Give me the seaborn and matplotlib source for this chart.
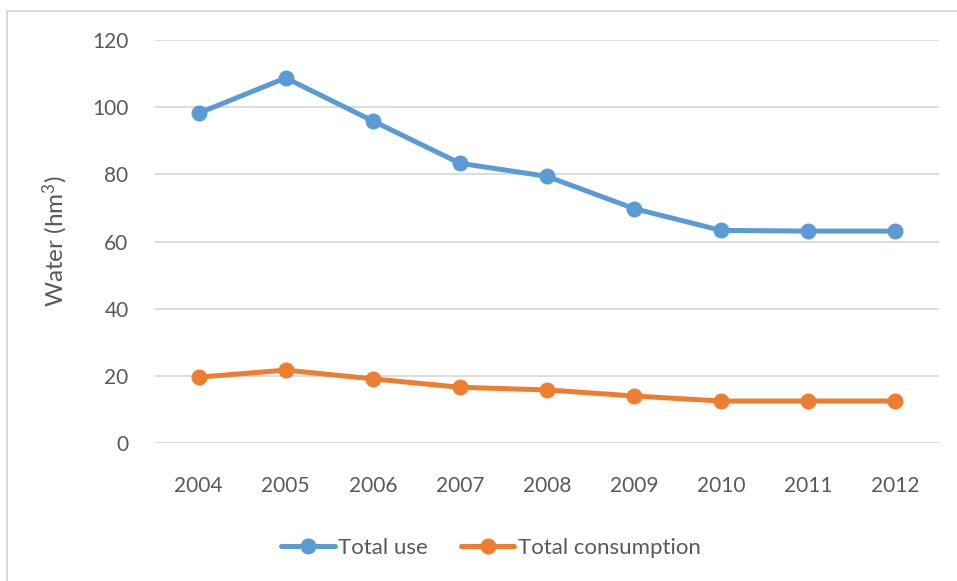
import matplotlib
matplotlib.use("Agg")
import matplotlib.pyplot as plt
import seaborn as sns
import pandas as pd
from matplotlib.patches import Rectangle

years = ["2004", "2005", "2006", "2007", "2008", "2009", "2010", "2011", "2012"]
total_use = [98.2, 108.7, 95.9, 83.3, 79.4, 69.8, 63.3, 63.1, 63.1]
total_consumption = [19.6, 21.7, 19.1, 16.6, 15.8, 14.0, 12.5, 12.5, 12.5]
series_names = ["Total use", "Total consumption"]
y_ticks = [0, 20, 40, 60, 80, 100, 120]

BLUE = "#5B9BD5"
ORANGE = "#ED7D31"
TEXT = "#595959"
GRID = "#D9D9D9"

sns.set_theme(style="white")
plt.rcParams["font.family"] = ["Lato", "DejaVu Sans"]
plt.rcParams["mathtext.fontset"] = "custom"
plt.rcParams["mathtext.rm"] = "Lato"
plt.rcParams["mathtext.it"] = "Lato"

df = pd.DataFrame({
    "idx": list(range(len(years))) * 2,
    "value": total_use + total_consumption,
    "series": [series_names[0]] * len(years) + [series_names[1]] * len(years),
})

W, H = 957, 581
fig = plt.figure(figsize=(W / 100, H / 100), dpi=100)
ax = fig.add_axes([155 / W, (H - 443) / H, (939 - 155) / W, (443 - 40) / H])

# light outer chart frame
fig.patches.append(Rectangle((7.5 / W, -0.1), 2.0, (H - 10.5) / H + 0.1,
                             transform=fig.transFigure, fill=False,
                             edgecolor="#D9D9D9", linewidth=1.5, zorder=0))

sns.lineplot(data=df, x="idx", y="value", hue="series",
             palette=[BLUE, ORANGE], marker="o", markersize=11.5,
             markeredgewidth=0, linewidth=3.6, ax=ax, legend=False,
             zorder=3)

ax.set_xlim(-0.5, len(years) - 0.5)
ax.set_ylim(0, 120)
ax.set_yticks(y_ticks)
ax.set_xticks(range(len(years)))
ax.set_xticklabels(years)
ax.yaxis.grid(True, color=GRID, linewidth=1.3)
ax.set_axisbelow(True)
for s in ax.spines.values():
    s.set_visible(False)
ax.tick_params(axis="both", length=0, labelsize=15, labelcolor=TEXT)
ax.tick_params(axis="x", pad=24)
ax.tick_params(axis="y", pad=19)
ax.set_xlabel("")
ax.set_ylabel(r"Water (hm$^{3}$)", fontsize=17.5, color=TEXT)
ax.yaxis.set_label_coords((70 - 155) / (939 - 155), 0.5)

handles = [plt.Line2D([], [], color=c, linewidth=3.6, marker="o",
                      markersize=11.5, markeredgewidth=0)
           for c in (BLUE, ORANGE)]
fig.legend(handles, series_names, loc="center",
           bbox_to_anchor=(491 / W, (H - 548) / H), ncol=2, frameon=False,
           fontsize=16, labelcolor=TEXT, handlelength=2.4,
           handletextpad=0.15, columnspacing=1.5)

fig.savefig("out.png", dpi=100)
